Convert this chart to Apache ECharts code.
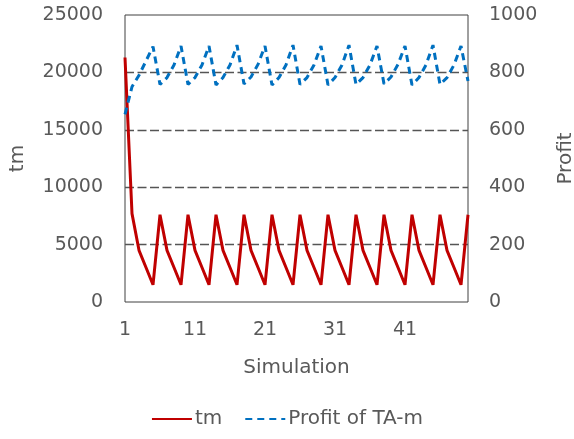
<!DOCTYPE html>
<html>
<head>
<meta charset="utf-8">
<script src="https://cdn.jsdelivr.net/npm/echarts@6/dist/echarts.min.js"></script>
<style>
html,body{margin:0;padding:0;background:#fff;}
#chart{width:574px;height:439px;}
</style>
</head>
<body>
<div id="chart"></div>
<script>
var categories = ['1','2','3','4','5','6','7','8','9','10','11','12','13','14','15','16','17','18','19','20','21','22','23','24','25','26','27','28','29','30','31','32','33','34','35','36','37','38','39','40','41','42','43','44','45','46','47','48','49','50'];
var tmValues = [21300,7700,4500,3000,1500,
  7600,4500,3000,1500, 7600,4500,3000,1500, 7600,4500,3000,1500, 7600,4500,3000,1500,
  7600,4500,3000,1500, 7600,4500,3000,1500, 7600,4500,3000,1500, 7600,4500,3000,1500,
  7600,4500,3000,1500, 7600,4500,3000,1500, 7600,4500,3000,1500,
  7600];
var profitValues = [654,750,790,840,890,
  758,782,826,892, 758,782,826,892, 756,782,826,895, 760,784,828,892,
  756,782,826,895, 758,782,826,892, 756,782,826,895, 758,782,826,892,
  760,784,828,892, 756,782,826,895, 758,782,826,892,
  770];
var leftTicks = {min:0, max:25000, interval:5000};
var rightTicks = {min:0, max:1000, interval:200};

var font = 'DejaVu Sans';
var textColor = '#595959';
var plain = function(v){ return String(v); };
var chart = echarts.init(document.getElementById('chart'));
chart.setOption({
  animation:false,
  textStyle:{fontFamily:font},
  grid:{left:125, right:106, top:15, bottom:137, show:true, borderColor:'#404040', borderWidth:1, containLabel:false, outerBoundsMode:'none'},
  legend:{
    show:true,
    data:['tm','Profit of TA-m'],
    left:'center', bottom:5,
    itemWidth:40, itemHeight:12, itemGap:22,
    itemStyle:{opacity:0},
    textStyle:{fontFamily:font, fontSize:20, color:textColor, padding:[0,0,0,-2]}
  },
  xAxis:{
    type:'category', data:categories, boundaryGap:false,
    name:'Simulation', nameLocation:'middle', nameGap:56,
    nameTextStyle:{fontFamily:font, fontSize:20, color:textColor},
    axisLine:{show:false}, axisTick:{show:false},
    axisLabel:{interval:function(i){ return i % 10 === 0; }, fontFamily:font, fontSize:19, color:textColor, margin:19},
    splitLine:{show:false}
  },
  yAxis:[{
    type:'value', min:leftTicks.min, max:leftTicks.max, interval:leftTicks.interval,
    name:'tm', nameLocation:'middle', nameGap:97, nameRotate:90,
    nameTextStyle:{fontFamily:font, fontSize:20, color:textColor},
    axisLine:{show:false}, axisTick:{show:false},
    axisLabel:{formatter:plain, fontFamily:font, fontSize:19, color:textColor, margin:22},
    splitLine:{show:true, showMinLine:false, showMaxLine:false, lineStyle:{type:[9,3.5], color:'#555555', width:1.4}}
  },{
    type:'value', min:rightTicks.min, max:rightTicks.max, interval:rightTicks.interval,
    name:'Profit', nameLocation:'middle', nameGap:88, nameRotate:90,
    nameTextStyle:{fontFamily:font, fontSize:20, color:textColor},
    axisLine:{show:false}, axisTick:{show:false},
    axisLabel:{formatter:plain, fontFamily:font, fontSize:19, color:textColor, margin:21},
    splitLine:{show:false}
  }],
  series:[{
    name:'tm', type:'line', yAxisIndex:0, data:tmValues,
    symbol:'none', smooth:false,
    lineStyle:{color:'#C00000', width:3},
    itemStyle:{color:'#C00000'}
  },{
    name:'Profit of TA-m', type:'line', yAxisIndex:1, data:profitValues,
    symbol:'none', smooth:false,
    lineStyle:{color:'#0070C0', width:3, type:[7,5]},
    itemStyle:{color:'#0070C0'}
  }]
});
</script>
</body>
</html>
